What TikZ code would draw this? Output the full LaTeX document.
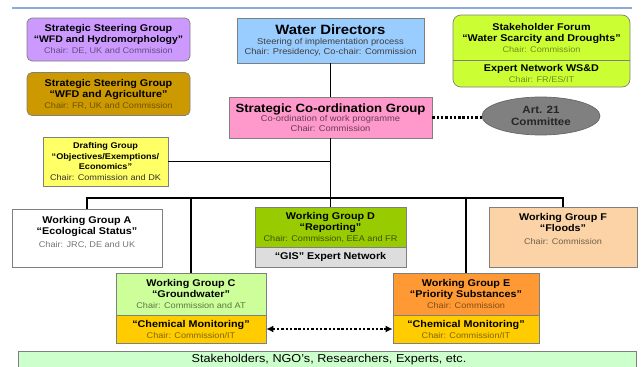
\documentclass[tikz,border=0pt]{standalone}
\usepackage{fontspec}
\setmainfont{Liberation Sans}[FakeStretch=1.1]
\usetikzlibrary{shapes.geometric,arrows.meta}

\definecolor{rulecol}{HTML}{8EAADB}
\definecolor{boxline}{HTML}{7F7F7F}
\definecolor{violetfill}{HTML}{CC99FF}
\definecolor{ochre}{HTML}{CC9900}
\definecolor{wdblue}{HTML}{99CCFF}
\definecolor{scgpink}{HTML}{FF99CC}
\definecolor{forumgreen}{HTML}{CCFF33}
\definecolor{artgray}{HTML}{808080}
\definecolor{draftyellow}{HTML}{FFFF66}
\definecolor{wdgreen}{HTML}{99CC00}
\definecolor{gisgray}{HTML}{DDDDDD}
\definecolor{wgcgreen}{HTML}{CCFF99}
\definecolor{chemyellow}{HTML}{FFCC00}
\definecolor{wgeorange}{HTML}{FF9933}
\definecolor{wgfpeach}{HTML}{FBD3A6}
\definecolor{stakegreen}{HTML}{CCFFCC}

\colorlet{chaircol}{black!55}
\newcommand{\chair}[1]{{\fontsize{8.3}{9.5}\selectfont\mdseries\color{chaircol}#1}}

\begin{document}
\begin{tikzpicture}[x=1pt,y=-1pt,
    box/.style={draw=boxline, line width=0.7pt, inner sep=0pt, align=center,
      font=\fontsize{9.8}{11}\selectfont\bfseries},
    txt/.style={inner sep=0pt, align=center, font=\fontsize{9.8}{11}\selectfont\bfseries},
    ssg/.style={box, rounded corners=5pt, minimum width=163pt, minimum height=43pt},
    chaircolor/.style={execute at begin node={\colorlet{chaircol}{#1}}},
    link/.style={line width=1.3pt},
    dots/.style={line width=2.6pt, dash pattern=on 2.4pt off 1.9pt},
  ]
  \useasboundingbox (0,0) rectangle (641,367);
  \clip (0,0) rectangle (641,367);

  % header rule
  \draw[rulecol, line width=1.2pt] (12,8) -- (632,8);

  % steering groups (left)
  \node[ssg, fill=violetfill, chaircolor=black!50!violetfill] (ssghydro) at (108.5,39.5)
    {Strategic Steering Group\\{\fontsize{9.5}{11}\selectfont“WFD and Hydromorphology”}\\\chair{Chair: DE, UK and Commission}};
  \node[ssg, fill=ochre, chaircolor=black!45!ochre] (ssgagri) at (108.5,94)
    {Strategic Steering Group\\“WFD and Agriculture”\\\chair{Chair: FR, UK and Commission}};

  % top of the tree
  \node[box, fill=wdblue, minimum width=187pt, minimum height=45pt,
    font=\fontsize{8.5}{9.6}\selectfont, text=black!75] (wd) at (330.5,40.5)
    {{\fontsize{13.5}{15}\selectfont\bfseries\color{black} Water Directors}\\Steering of implementation process\\Chair: Presidency, Co-chair: Commission};
  \node[box, fill=scgpink, minimum width=203pt, minimum height=41pt,
    font=\fontsize{8.5}{9.6}\selectfont, text=black!60!scgpink] (scg) at (330.5,117.5)
    {{\fontsize{12}{13.5}\selectfont\bfseries\color{black} Strategic Co-ordination Group}\\Co-ordination of work programme\\Chair: Commission};

  % stakeholder forum (right)
  \node[box, rounded corners=8pt, fill=forumgreen, minimum width=177pt, minimum height=72pt] (forum) at (541.5,51) {};
  \draw[boxline, line width=0.7pt] (forum.west |- 0,60) -- (forum.east |- 0,60);
  \node[txt, chaircolor=black!45!forumgreen] (forumtitle) at (541.5,37.5)
    {Stakeholder Forum\\“Water Scarcity and Droughts”\\\chair{Chair: Commission}};
  \node[txt, chaircolor=black!45!forumgreen] (forumnet) at (541.5,73.5)
    {Expert Network WS\&D\\\chair{Chair: FR/ES/IT}};

  \node[ellipse, draw=black!60, line width=0.7pt, fill=artgray, minimum width=118pt, minimum height=38pt,
    inner sep=0pt, align=center, text=black!85, font=\fontsize{10.5}{11.5}\selectfont\bfseries] (art21) at (541,116)
    {Art. 21\\Committee};

  % drafting group
  \node[box, fill=draftyellow, minimum width=125pt, minimum height=49pt,
    font=\fontsize{8.3}{10.5}\selectfont\bfseries, chaircolor=black!80] (drafting) at (105.5,161.5)
    {Drafting Group\\“Objectives/Exemptions/\\Economics”\\\chair{Chair: Commission and DK}};

  % working groups
  \node[box, fill=white, minimum width=150pt, minimum height=58pt] (wga) at (87,238) {};
  \node[txt] (wgatext) at (87,232)
    {Working Group A\\“Ecological Status”\\[2pt]\chair{Chair: JRC, DE and UK}};
  \node[box, fill=wdgreen, minimum width=151pt, minimum height=40pt, chaircolor=black!60!wdgreen] (wgd) at (330.5,227)
    {Working Group D\\“Reporting”\\\chair{Chair: Commission, EEA and FR}};
  \node[box, fill=gisgray, minimum width=151pt, minimum height=20pt] (gis) at (330.5,257)
    {“GIS” Expert Network};
  \node[box, fill=wgfpeach, minimum width=148pt, minimum height=60pt] (wgf) at (563,237) {};
  \node[txt, chaircolor=black!55!wgfpeach] (wgftext) at (563,229)
    {Working Group F\\“Floods”\\[2pt]\chair{Chair: Commission}};
  \node[box, fill=wgcgreen, minimum width=150pt, minimum height=42pt, chaircolor=black!55!wgcgreen] (wgc) at (191,294)
    {Working Group C\\“Groundwater”\\\chair{Chair: Commission and AT}};
  \node[box, fill=chemyellow, minimum width=150pt, minimum height=28pt, chaircolor=black!50!chemyellow] (wgcchem) at (191,329)
    {“Chemical Monitoring”\\\chair{Chair: Commission/IT}};
  \node[box, fill=wgeorange, minimum width=146pt, minimum height=42pt, chaircolor=black!50!wgeorange] (wge) at (466,294)
    {Working Group E\\“Priority Substances”\\\chair{Chair: Commission}};
  \node[box, fill=chemyellow, minimum width=146pt, minimum height=28pt, chaircolor=black!50!chemyellow] (wgechem) at (466,329)
    {“Chemical Monitoring”\\\chair{Chair: Commission/IT}};

  % stakeholders bar
  \node[box, fill=stakegreen, minimum width=618pt, minimum height=24pt] (stake) at (327,363) {};
  \node[txt, font=\fontsize{11.5}{13}\selectfont] (staketext) at (329,360)
    {Stakeholders, NGO’s, Researchers, Experts, etc.};

  % connectors
  \coordinate (bus) at (330.5,198);
  \draw[link] (wd) -- (scg);
  \draw[link] (scg) -- (bus);
  \draw[link] (drafting) -- (drafting -| bus);
  \draw[link] (wga.north) |- (bus) -| (wgf.north);
  \draw[link] (bus) -- (wgd);
  \draw[link] (wgc.north |- bus) -- (wgc);
  \draw[link] (wge.north |- bus) -- (wge);
  \draw[dots] (scg.east) -- (scg.east -| art21.west);
  \draw[dots, {Latex[length=7pt,width=7pt]}-{Latex[length=7pt,width=7pt]}] (wgcchem) -- (wgechem);
\end{tikzpicture}
\end{document}
